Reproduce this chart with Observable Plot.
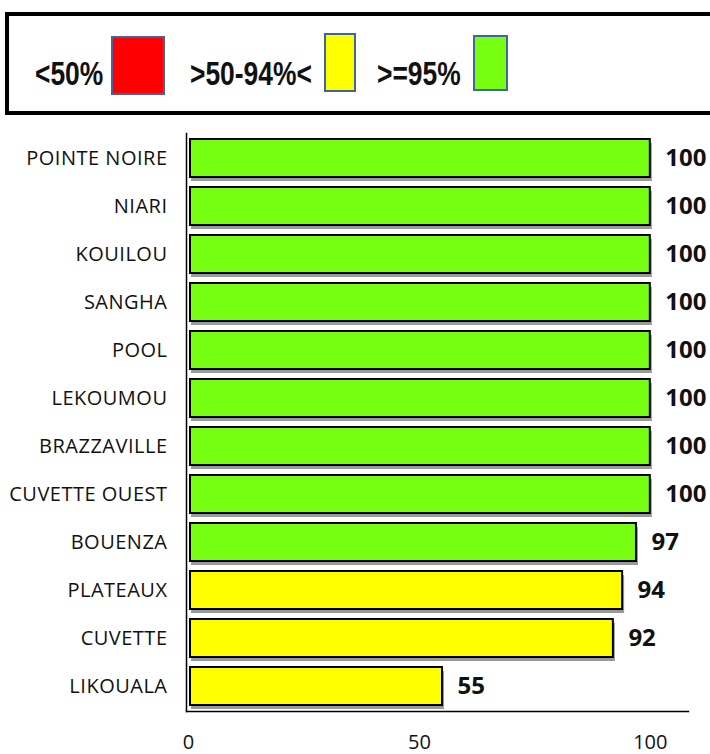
<!DOCTYPE html>
<html><head><meta charset="utf-8">
<script src="https://cdn.jsdelivr.net/npm/d3@7"></script>
<script src="https://cdn.jsdelivr.net/npm/@observablehq/plot@0.6"></script>
<style>
html,body{margin:0;padding:0;background:#fff;width:710px;height:754px;overflow:hidden;position:relative;}
#legend{position:absolute;left:0;top:0;width:710px;height:120px;}
#chart{position:absolute;left:0;top:120px;}
#chart svg{display:block;}
#box{position:absolute;left:5px;top:12px;width:740px;height:95px;border:4px solid #000;box-sizing:content-box;}
.lt{position:absolute;font-family:"Liberation Sans",Arial,sans-serif;font-weight:bold;font-size:33px;color:#111;top:54px;line-height:40px;white-space:nowrap;transform:scaleX(0.8);transform-origin:0 0;}
.sw{position:absolute;border:2px solid #41669c;box-sizing:border-box;}
</style></head>
<body>
<div id="legend"></div>
<div id="chart"></div>
<script>
const regions = ["POINTE NOIRE","NIARI","KOUILOU","SANGHA","POOL","LEKOUMOU","BRAZZAVILLE","CUVETTE OUEST","BOUENZA","PLATEAUX","CUVETTE","LIKOUALA"];
const values = [100,100,100,100,100,100,100,100,97,94,92,55];
const legendLabels = ["<50%", ">50-94%<", ">=95%"];
const legendColors = ["#ff0000", "#ffff00", "#77ff12"];
const xTicks = [0, 50, 100];

function colorFor(v){ return v < 50 ? legendColors[0] : (v < 95 ? legendColors[1] : legendColors[2]); }
const data = regions.map((r,i)=>({region:r, value:values[i], color:colorFor(values[i])}));

// legend
const lg = document.getElementById("legend");
lg.innerHTML = '<div id="box"></div>';
const textX = [35, 190, 377];
const sw = [[111,36,54,59],[324,33,32,59],[473,35,35,56]];
legendLabels.forEach((t,i)=>{
  const d = document.createElement("div"); d.className="lt"; d.textContent=t; d.style.left=textX[i]+"px"; lg.appendChild(d);
  const s = document.createElement("div"); s.className="sw";
  s.style.left=sw[i][0]+"px"; s.style.top=sw[i][1]+"px"; s.style.width=sw[i][2]+"px"; s.style.height=sw[i][3]+"px";
  s.style.background=legendColors[i]; lg.appendChild(s);
});

const plot = Plot.plot({
  width: 710,
  height: 634,
  marginLeft: 188,
  marginRight: 20,
  marginTop: 13,
  marginBottom: 43,
  style: {fontFamily: "'Open Sans', 'Liberation Sans', sans-serif", background: "#fff"},
  x: {domain: [0, 108.7], axis: null},
  y: {domain: regions, paddingInner: 0.2, paddingOuter: 0.1, axis: null},
  marks: [
    Plot.barX(data, {y: "region", x: "value", fill: "#9a9a9a", dx: 2, dy: 4, insetLeft: 1}),
    Plot.barX(data, {y: "region", x: "value", fill: "color", stroke: "#000", strokeWidth: 2, insetLeft: 2}),
    Plot.text(data, {y: "region", x: "value", text: d => String(d.value), dx: 15, textAnchor: "start", fontWeight: "bold", fontSize: 24, fill: "#111", fontFamily: "'Open Sans', sans-serif"}),
    Plot.axisY({tickSize: 0, tickPadding: 21, fontSize: 20, fill: "#111", label: null}),
    Plot.axisX({ticks: xTicks, tickSize: 0, tickPadding: 23, fontSize: 20, fill: "#111", label: null, tickFormat: d => String(d)}),
    Plot.frame({anchor: "left", stroke: "#000", strokeWidth: 1.5, dx: -2}),
    Plot.frame({anchor: "bottom", stroke: "#000", strokeWidth: 1.5, dx: -2})
  ]
});
d3.select(plot).selectAll('g[aria-label="y-axis tick label"] text').attr("letter-spacing", "0.5px");
document.getElementById("chart").appendChild(plot);
</script>
</body></html>
